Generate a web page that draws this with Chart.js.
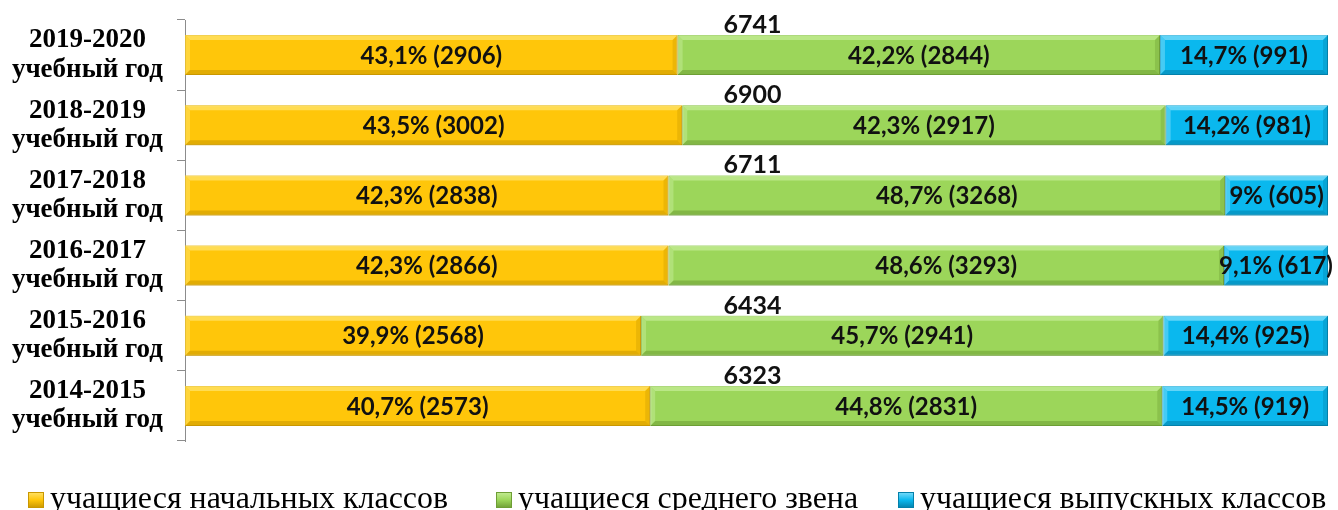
<!DOCTYPE html>
<html>
<head>
<meta charset="utf-8">
<script src="https://cdn.jsdelivr.net/npm/chart.js@4.4.1/dist/chart.umd.min.js"></script>
<style>
  html, body { margin: 0; padding: 0; background: #fff; }
  #wrap { width: 1338px; height: 510px; position: relative; }
</style>
</head>
<body>
<div id="wrap"><canvas id="grafico"></canvas></div>
<script>
// учебные годы (сверху вниз)
const years = [
    ["2019-2020", "учебный год"],
    ["2018-2019", "учебный год"],
    ["2017-2018", "учебный год"],
    ["2016-2017", "учебный год"],
    ["2015-2016", "учебный год"],
    ["2014-2015", "учебный год"]
];

// доли, %
const pctNachalnye = [43.1, 43.5, 42.3, 42.3, 39.9, 40.7];
const pctSrednie = [42.2, 42.3, 48.7, 48.6, 45.7, 44.8];
const pctVypusknye = [14.7, 14.2, 9, 9.1, 14.4, 14.5];

// количество учащихся
const cntNachalnye = [2906, 3002, 2838, 2866, 2568, 2573];
const cntSrednie = [2844, 2917, 3268, 3293, 2941, 2831];
const cntVypusknye = [991, 981, 605, 617, 925, 919];

// всего (для 2016-2017 на диаграмме нет подписи)
const totals = [6741, 6900, 6711, null, 6434, 6323];

const seriesNames = ["учащиеся начальных классов", "учащиеся среднего звена", "учащиеся выпускных классов"];

const colores = [
    { fill: "#FFC60A", light: "#FFE36B", dark: "#C99700" },
    { fill: "#9CD65A", light: "#C4EC95", dark: "#6E9E35" },
    { fill: "#0AB8EE", light: "#7FDDFA", dark: "#0480AA" }
];

function fmt(p, c) {
    return String(p).replace(".", ",") + "% (" + c + ")";
}

const counts = [cntNachalnye, cntSrednie, cntVypusknye];

// bevel + подписи внутри столбцов + итоги
const barDecor = {
    id: "barDecor",
    afterDatasetsDraw(chart) {
        const ctx = chart.ctx;
        chart.data.datasets.forEach(function (ds, di) {
            const meta = chart.getDatasetMeta(di);
            const col = colores[di];
            meta.data.forEach(function (bar, i) {
                const left = Math.min(bar.base, bar.x);
                const right = Math.max(bar.base, bar.x);
                const top = bar.y - bar.height / 2;
                const bottom = bar.y + bar.height / 2;
                const b = 5;
                ctx.save();
                // верхняя светлая грань
                ctx.fillStyle = col.light;
                ctx.globalAlpha = 0.75;
                ctx.beginPath();
                ctx.moveTo(left, top);
                ctx.lineTo(right, top);
                ctx.lineTo(right - b, top + b);
                ctx.lineTo(left + b, top + b);
                ctx.closePath();
                ctx.fill();
                // левая грань
                ctx.globalAlpha = 0.5;
                ctx.beginPath();
                ctx.moveTo(left, top);
                ctx.lineTo(left + b, top + b);
                ctx.lineTo(left + b, bottom - b);
                ctx.lineTo(left, bottom);
                ctx.closePath();
                ctx.fill();
                // нижняя тёмная грань
                ctx.fillStyle = col.dark;
                ctx.globalAlpha = 0.55;
                ctx.beginPath();
                ctx.moveTo(left, bottom);
                ctx.lineTo(right, bottom);
                ctx.lineTo(right - b, bottom - b);
                ctx.lineTo(left + b, bottom - b);
                ctx.closePath();
                ctx.fill();
                // правая грань
                ctx.globalAlpha = 0.35;
                ctx.beginPath();
                ctx.moveTo(right, top);
                ctx.lineTo(right - b, top + b);
                ctx.lineTo(right - b, bottom - b);
                ctx.lineTo(right, bottom);
                ctx.closePath();
                ctx.fill();
                ctx.restore();
            });
        });

        ctx.save();
        ctx.fillStyle = "#111";
        ctx.textAlign = "center";
        ctx.textBaseline = "middle";
        ctx.font = "bold 24px Lato";
        chart.data.datasets.forEach(function (ds, di) {
            const meta = chart.getDatasetMeta(di);
            meta.data.forEach(function (bar, i) {
                const cx = (bar.base + bar.x) / 2;
                ctx.fillText(fmt(ds.data[i], counts[di][i]), cx, bar.y + 1);
            });
        });
        // итоги над столбцами
        const ca = chart.chartArea;
        const meta0 = chart.getDatasetMeta(0);
        ctx.font = "bold 25px Lato";
        totals.forEach(function (t, i) {
            if (t == null) return;
            const bar = meta0.data[i];
            ctx.fillText(String(t), (ca.left + ca.right) / 2 - 4, bar.y - bar.height / 2 - 10);
        });
        ctx.restore();
    }
};

// легенда внизу (узкий шрифт)
const legendaAbajo = {
    id: "legendaAbajo",
    afterDraw(chart) {
        const ctx = chart.ctx;
        ctx.save();
        ctx.font = "31px 'Liberation Serif'";
        ctx.textBaseline = "alphabetic";
        const sx = 398 / ctx.measureText(seriesNames[0]).width;
        const starts = [28, 496, 898];
        seriesNames.forEach(function (name, i) {
            const x = starts[i];
            const y = 492;
            const col = colores[i];
            const g = ctx.createLinearGradient(x, y, x, y + 16);
            g.addColorStop(0, col.light);
            g.addColorStop(0.5, col.fill);
            g.addColorStop(1, col.dark);
            ctx.fillStyle = g;
            ctx.fillRect(x, y, 16, 16);
            ctx.strokeStyle = col.dark;
            ctx.lineWidth = 1;
            ctx.strokeRect(x + 0.5, y + 0.5, 15, 15);
            ctx.save();
            ctx.translate(x + 22, 508);
            ctx.scale(sx, 1);
            ctx.fillStyle = "#000";
            ctx.fillText(name, 0, 0);
            ctx.restore();
        });
        ctx.restore();
    }
};

const datasets = [pctNachalnye, pctSrednie, pctVypusknye].map(function (vals, i) {
    return {
        label: seriesNames[i],
        data: vals,
        backgroundColor: colores[i].fill,
        borderColor: colores[i].dark,
        borderWidth: 1,
        borderSkipped: false,
        categoryPercentage: 1,
        barPercentage: 0.57
    };
});

const ctx = document.getElementById("grafico").getContext("2d");
window.graficoInstancia = new Chart(ctx, {
    type: "bar",
    data: {
        labels: years,
        datasets: datasets
    },
    options: {
        indexAxis: "y",
        responsive: true,
        maintainAspectRatio: false,
        animation: false,
        layout: {
            padding: { top: 20, right: 10, bottom: 69, left: 0 }
        },
        plugins: {
            legend: { display: false },
            tooltip: { enabled: false }
        },
        scales: {
            x: {
                stacked: true,
                min: 0,
                max: 100,
                display: false
            },
            y: {
                stacked: true,
                afterFit: function (scale) {
                    scale.width = 185;
                    scale.paddingTop = 0;
                    scale.paddingBottom = 0;
                },
                border: { display: true, color: "#8c8c8c", width: 1 },
                grid: {
                    drawOnChartArea: false,
                    drawTicks: true,
                    tickLength: 8,
                    color: "#8c8c8c"
                },
                ticks: {
                    crossAlign: "center",
                    padding: 14,
                    color: "#000",
                    font: { family: "'Liberation Serif'", size: 27, weight: "bold", lineHeight: 1.08 }
                }
            }
        }
    },
    plugins: [barDecor, legendaAbajo]
});
</script>
</body>
</html>
